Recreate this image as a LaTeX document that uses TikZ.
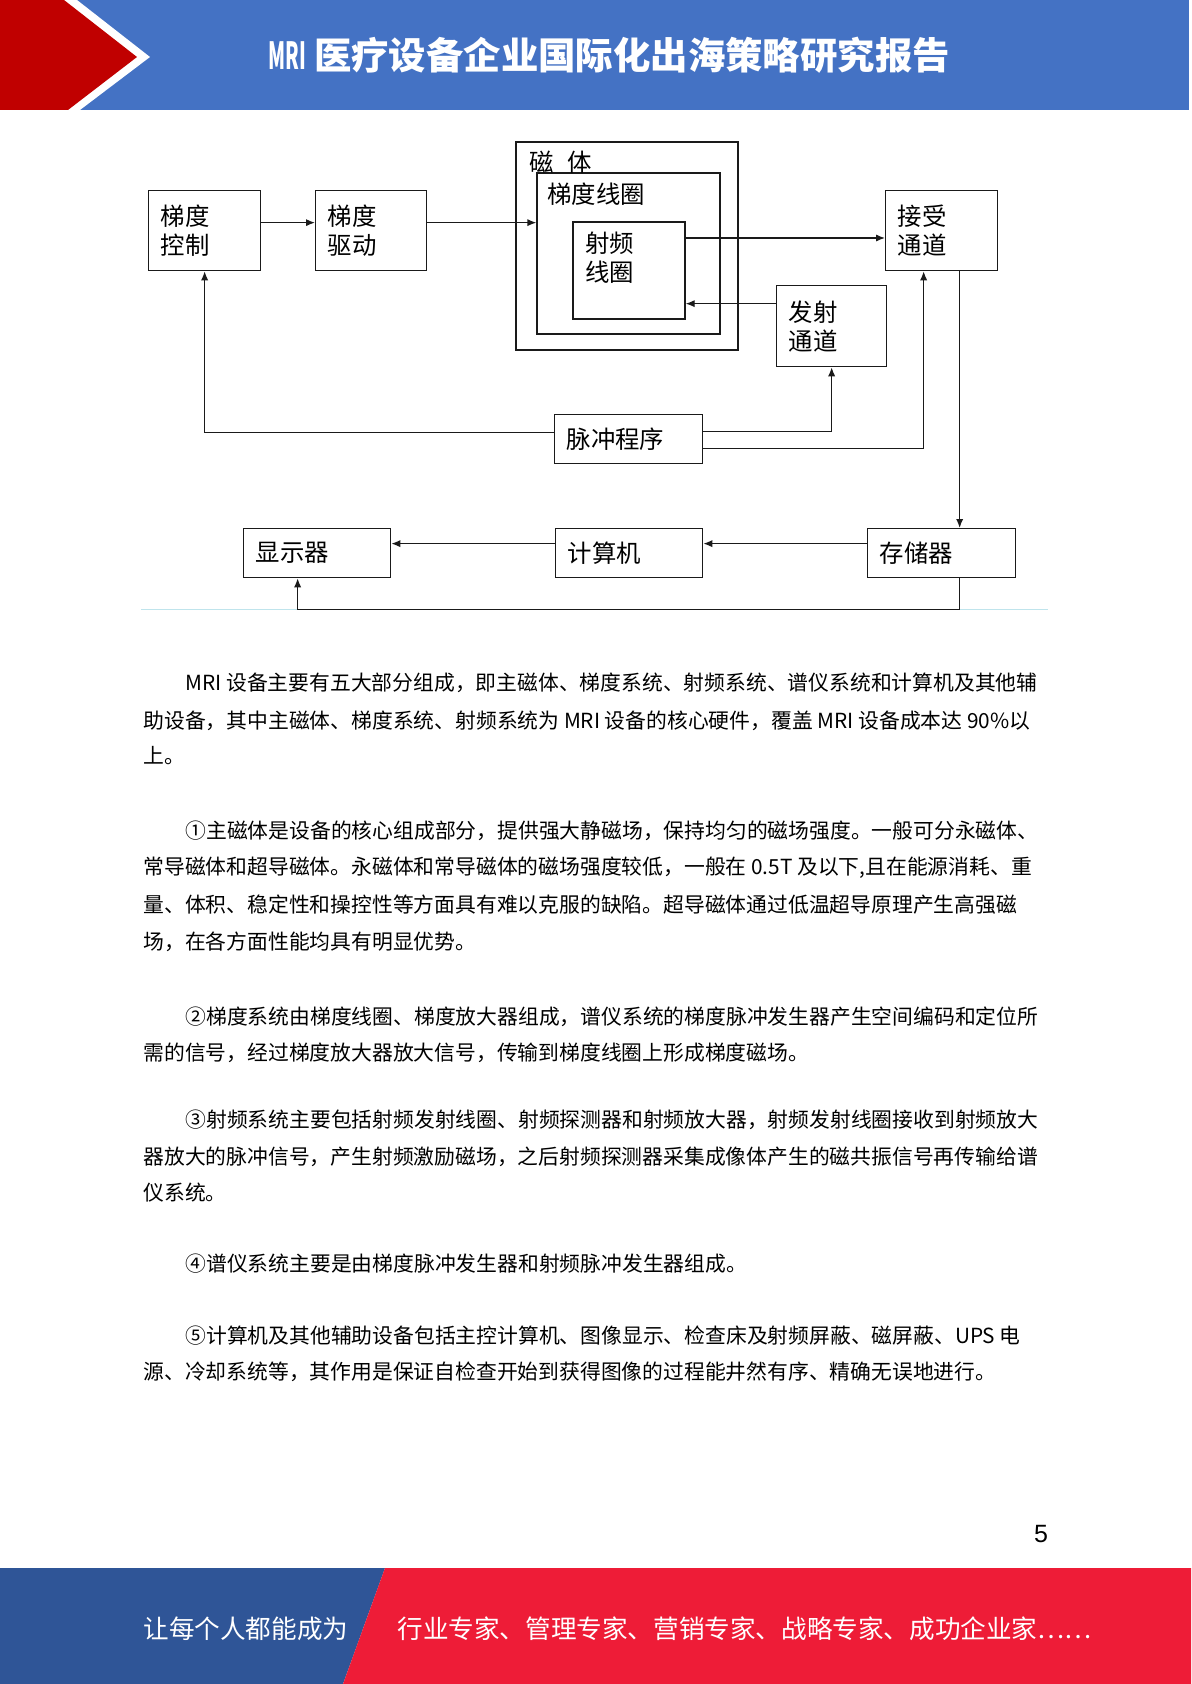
\documentclass[tikz,border=0pt]{standalone}
\usepackage{fontspec}
\usepackage{graphicx}
\setmainfont{Noto Sans CJK SC}
\newfontfamily\lsans{Liberation Sans}
\usetikzlibrary{arrows.meta}
\definecolor{hdrblue}{HTML}{4472C4}
\definecolor{hdrred}{HTML}{C00000}
\definecolor{ftblue}{HTML}{2F5597}
\definecolor{ftred}{HTML}{EE1C37}
\definecolor{sepblue}{HTML}{BFE4EC}
\definecolor{lineblk}{HTML}{1A1A1A}
\newcommand{\mydiag}{\fontsize{12.2pt}{14.5pt}\selectfont}
\newcommand{\mybody}{\fontsize{10.4pt}{12pt}\selectfont}
\newcommand{\myfoot}{\fontsize{12.8pt}{14pt}\selectfont}
\begin{document}
\begin{tikzpicture}[x=0.5pt,y=-0.5pt,
  box/.style 2 args={draw=lineblk, line width=0.65pt, inner xsep=6pt, inner ysep=0pt,
    text width=#1, minimum height=#2, align=left, font=\mydiag, anchor=north west},
  frame/.style={draw=lineblk, line width=0.65pt, inner sep=0pt},
  lbl/.style={anchor=west, inner sep=0pt, font=\mydiag, align=left},
  arr/.style={draw=lineblk, line width=0.65pt, -{Latex[length=4.5pt,width=3.6pt]}},
  body/.style={anchor=west, inner sep=0pt, font=\mybody}]
\useasboundingbox (0,0) rectangle (1191,1684);
\fill[white] (0,0) rectangle (1191,1684);
% header
\fill[hdrblue] (0,0) rectangle (1189,110);
\fill[white] (0,0) -- (77,0) -- (150,57) -- (80,110) -- (0,110) -- cycle;
\fill[hdrred] (0,0) -- (64,0) -- (137,57) -- (68,110) -- (0,110) -- cycle;
\node[anchor=west, inner sep=0pt, text=white, font=\fontsize{18.7pt}{21pt}\selectfont\bfseries] (title) at (268,55)
  {\scalebox{0.52}[1]{MRI}\hspace{4pt}医疗设备企业国际化出海策略研究报告};
% diagram boxes
\node[box={44pt}{40pt}] (gc) at (148,190) {梯度\\控制};
\node[box={43.5pt}{40pt}] (gd) at (315,190) {梯度\\驱动};
\node[frame, minimum width=111pt, minimum height=104pt] (mag) at (627,246) {};
\node[frame, minimum width=91.5pt, minimum height=80.5pt] (gcoil) at (628.5,253.5) {};
\node[frame, minimum width=56pt, minimum height=48.5pt] (rf) at (629,270.5) {};
\node[lbl] (maglbl) at (529,162) {磁\hspace{7pt}体};
\node[lbl] (gcoillbl) at (547,194) {梯度线圈};
\node[lbl] (rflbl) at (585,257.5) {射频\\线圈};
\node[box={44pt}{40pt}] (rx) at (885,190) {接受\\通道};
\node[box={43pt}{40.5pt}] (tx) at (776,285) {发射\\通道};
\node[box={62pt}{24.5pt}] (ps) at (554,414) {脉冲程序};
\node[box={61.5pt}{24.5pt}] (disp) at (243,528) {显示器};
\node[box={61.5pt}{24.5pt}] (comp) at (555,528) {计算机};
\node[box={62pt}{24.5pt}] (store) at (867,528) {存储器};
% separator
\draw[sepblue, line width=0.8pt] (141,609.5) -- (1048,609.5);
% connectors
\draw[arr] ([yshift=4pt]gc.east) -- ([yshift=4pt]gc.east -| gd.west);
\draw[arr] ([yshift=4pt]gd.east) -- ([yshift=4pt]gd.east -| gcoil.west);
\draw[arr] ([yshift=16.25pt]rf.east) -- ([yshift=16.25pt]rf.east -| rx.west);
\draw[arr] ([yshift=11.25pt]tx.west) -- ([yshift=11.25pt]tx.west -| rf.east);
\draw[arr] ([yshift=3.25pt]ps.west) -| (gc.south);
\draw[arr] ([yshift=3.75pt]ps.east) -| (tx.south);
\draw[arr] ([yshift=-4.75pt]ps.east) -| ([xshift=-9pt]rx.south);
\draw[arr] ([xshift=9pt]rx.south) -- ([xshift=9pt]rx.south |- store.north);
\draw[arr] ([yshift=4.75pt]store.west) -- ([yshift=4.75pt]store.west -| comp.east);
\draw[arr] ([yshift=4.75pt]comp.west) -- ([yshift=4.75pt]comp.west -| disp.east);
\draw[arr] ([xshift=9pt]store.south) -- ++(0,31) -| ([xshift=-9.75pt]disp.south);
% body text
\node[body] (t1) at (185,683) {MRI 设备主要有五大部分组成，即主磁体、梯度系统、射频系统、谱仪系统和计算机及其他辅};
\node[body] (t2) at (143,721) {助设备，其中主磁体、梯度系统、射频系统为 MRI 设备的核心硬件，覆盖 MRI 设备成本达 90\%以};
\node[body] (t3) at (143,756) {上。};
\node[body] (t4) at (185,831) {①主磁体是设备的核心组成部分，提供强大静磁场，保持均匀的磁场强度。一般可分永磁体、};
\node[body] (t5) at (143,868) {常导磁体和超导磁体。永磁体和常导磁体的磁场强度较低，一般在 0.5T 及以下,且在能源消耗、重};
\node[body] (t6) at (143,905) {量、体积、稳定性和操控性等方面具有难以克服的缺陷。超导磁体通过低温超导原理产生高强磁};
\node[body] (t7) at (143,942) {场，在各方面性能均具有明显优势。};
\node[body] (t8) at (185,1016.5) {②梯度系统由梯度线圈、梯度放大器组成，谱仪系统的梯度脉冲发生器产生空间编码和定位所};
\node[body] (t9) at (143,1052.5) {需的信号，经过梯度放大器放大信号，传输到梯度线圈上形成梯度磁场。};
\node[body] (t10) at (185,1120) {③射频系统主要包括射频发射线圈、射频探测器和射频放大器，射频发射线圈接收到射频放大};
\node[body] (t11) at (143,1156.5) {器放大的脉冲信号，产生射频激励磁场，之后射频探测器采集成像体产生的磁共振信号再传输给谱};
\node[body] (t12) at (143,1193) {仪系统。};
\node[body] (t13) at (185,1264) {④谱仪系统主要是由梯度脉冲发生器和射频脉冲发生器组成。};
\node[body] (t14) at (185,1335.5) {⑤计算机及其他辅助设备包括主控计算机、图像显示、检查床及射频屏蔽、磁屏蔽、UPS 电};
\node[body] (t15) at (143,1372) {源、冷却系统等，其作用是保证自检查开始到获得图像的过程能井然有序、精确无误地进行。};
% page number
\node[inner sep=0pt, font=\lsans\fontsize{12.5pt}{14pt}\selectfont] (pg) at (1041,1534) {5};
% footer
\fill[ftblue] (0,1568) -- (385,1568) -- (343,1684) -- (0,1684) -- cycle;
\fill[ftred] (385,1568) -- (1191,1568) -- (1191,1684) -- (343,1684) -- cycle;
\node[anchor=west, inner sep=0pt, text=white, font=\myfoot] (ft1) at (143,1629) {让每个人都能成为};
\node[anchor=west, inner sep=0pt, text=white, font=\myfoot] (ft2) at (397,1629) {行业专家、管理专家、营销专家、战略专家、成功企业家……};
\end{tikzpicture}
\end{document}
